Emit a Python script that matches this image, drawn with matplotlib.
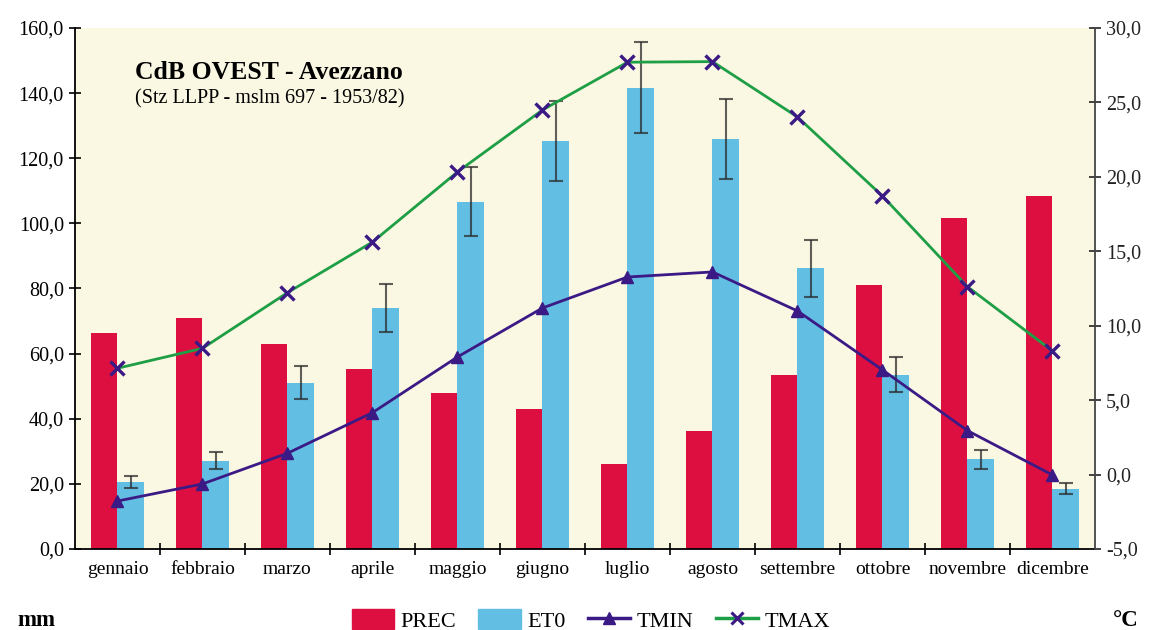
import matplotlib
matplotlib.use("Agg")
import matplotlib.pyplot as plt
import numpy as np
from matplotlib.ticker import FuncFormatter, FixedLocator
from matplotlib.lines import Line2D
from matplotlib.patches import Patch

months = ["gennaio", "febbraio", "marzo", "aprile", "maggio", "giugno",
          "luglio", "agosto", "settembre", "ottobre", "novembre", "dicembre"]
prec = [66.3, 70.9, 62.8, 55.2, 47.9, 43.0, 26.1, 36.2, 53.4, 81.1, 101.7, 108.4]
et0 = [20.5, 27.1, 51.1, 73.9, 106.6, 125.3, 141.7, 125.8, 86.2, 53.5, 27.6, 18.5]
et0_err = [1.9, 2.6, 5.1, 7.4, 10.6, 12.3, 14.1, 12.3, 8.7, 5.4, 2.9, 1.7]
tmin = [-1.78, -0.63, 1.43, 4.16, 7.9, 11.19, 13.27, 13.61, 10.99, 7.03, 2.95, -0.03]
tmax = [7.14, 8.48, 12.22, 15.62, 20.33, 24.49, 27.7, 27.74, 24.02, 18.71, 12.62, 8.3]

plt.rcParams["font.family"] = ["Liberation Serif", "DejaVu Serif"]

C_PREC = "#DC0F40"
C_ET0 = "#62BEE2"
C_TMIN = "#3B1A86"
C_TMAX = "#1E9E45"
C_BG = "#FAF7E2"

fig = plt.figure(figsize=(11.52, 6.3), dpi=100)
ax = fig.add_axes([0.0651, 0.1286, 0.8854, 0.827])
ax.set_facecolor(C_BG)

x = np.arange(len(months))
w = 0.31
ax.bar(x - w / 2, prec, width=w, color=C_PREC, zorder=2)
ax.bar(x + w / 2, et0, width=w, color=C_ET0, zorder=2)
ax.errorbar(x + w / 2, et0, yerr=et0_err, fmt="none", ecolor="#2b2b2b",
            elinewidth=1.5, capsize=5, capthick=1.5, alpha=0.75, zorder=3)

ax.set_xlim(-0.5, len(months) - 0.5)
ax.set_ylim(0, 160)
ax.set_yticks(np.arange(0, 161, 20))
ax.yaxis.set_major_formatter(FuncFormatter(lambda v, p: f"{v:.1f}".replace(".", ",")))
ax.xaxis.set_major_locator(FixedLocator(np.arange(0.5, len(months) - 0.5, 1)))
ax.xaxis.set_minor_locator(FixedLocator(x))
ax.set_xticklabels([], minor=False)
ax.set_xticklabels(months, minor=True)
ax.tick_params(axis="x", which="major", direction="inout", length=9, width=1.2)
ax.tick_params(axis="x", which="minor", length=0, labelsize=14, pad=9)
ax.tick_params(axis="y", direction="inout", length=9, width=1.2, labelsize=14.5)
for s in ("top", "right"):
    ax.spines[s].set_visible(False)
ax.spines["left"].set_linewidth(1.3)
ax.spines["bottom"].set_linewidth(1.3)

ax2 = ax.twinx()
ax2.set_ylim(-5, 30)
ax2.set_yticks(np.arange(-5, 31, 5))
ax2.yaxis.set_major_formatter(FuncFormatter(lambda v, p: f"{v:.1f}".replace(".", ",")))
ax2.tick_params(axis="y", direction="inout", length=9, width=1.2, labelsize=14.5,
                colors="#222222")
for s in ("top", "left", "bottom"):
    ax2.spines[s].set_visible(False)
ax2.spines["right"].set_linewidth(1.3)
ax2.spines["right"].set_color("#444444")

ax2.plot(x, tmax, color=C_TMAX, lw=2, marker="x", ms=10, mew=2.4,
         mec=C_TMIN, zorder=4)
ax2.plot(x, tmin, color=C_TMIN, lw=2, marker="^", ms=9, mfc=C_TMIN,
         mec=C_TMIN, zorder=4)

ax.text(0.059, 0.914, "CdB OVEST - Avezzano", transform=ax.transAxes,
        fontsize=18.5, fontweight="bold", va="center", ha="left")
ax.text(0.059, 0.864, "(Stz LLPP - mslm 697 - 1953/82)", transform=ax.transAxes,
        fontsize=14.5, va="center", ha="left")

handles = [
    Patch(color=C_PREC, label="PREC"),
    Patch(color=C_ET0, label="ET0"),
    Line2D([], [], color=C_TMIN, lw=2.5, marker="^", ms=9, label="TMIN"),
    Line2D([], [], color=C_TMAX, lw=2.5, marker="x", ms=9, mew=2.2, mec=C_TMIN, label="TMAX"),
]
fig.legend(handles=handles, loc="center", bbox_to_anchor=(0.513, 0.015),
           ncol=4, frameon=False, fontsize=16, handlelength=1.9,
           handleheight=1.0, handletextpad=0.3, columnspacing=1.0)

fig.text(0.015, 0.015, "mm", fontsize=16.5, fontweight="bold", va="center", ha="left")
fig.text(0.988, 0.015, "°C", fontsize=16.5, fontweight="bold", va="center", ha="right")

fig.savefig("out.png", dpi=100, facecolor="white")
